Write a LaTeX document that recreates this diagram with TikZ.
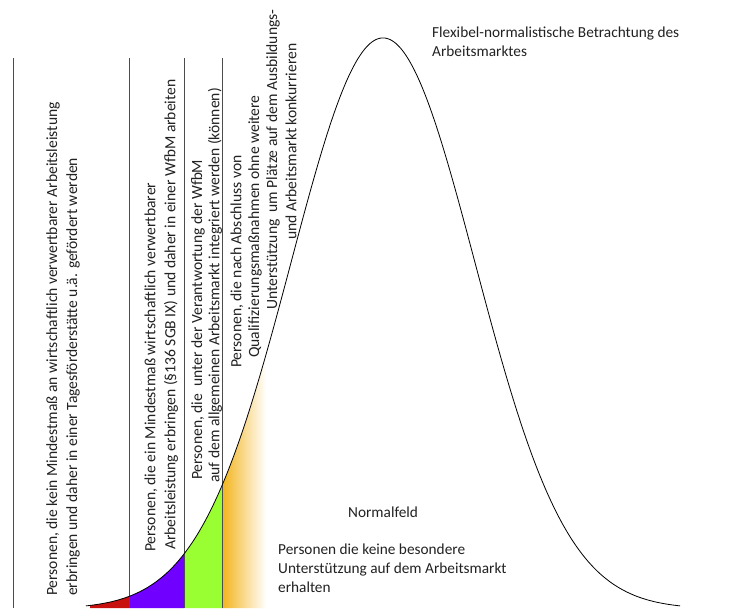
\documentclass[tikz,border=0pt]{standalone}
\usepackage{fontspec}
\setmainfont{Carlito}
\definecolor{cred}{HTML}{C8100E}
\definecolor{cpurple}{HTML}{7000FF}
\definecolor{cgreen}{HTML}{99FF33}
\definecolor{corange}{HTML}{F4B41C}
\definecolor{ctext}{HTML}{222222}
\pgfmathdeclarefunction{bell}{1}{\pgfmathparse{609-571*exp(-0.5*((#1-383)/92)^2)}}
\tikzset{
  vtext/.style={rotate=90, anchor=west, inner sep=0pt, text=ctext, font=\fontsize{15.6}{19.5}\selectfont},
  htext/.style={anchor=west, inner sep=0pt, text=ctext, font=\fontsize{15.3}{19}\selectfont, align=left},
  sep/.style={draw=black!70, line width=0.9pt},
}
\begin{document}
\begin{tikzpicture}[x=1pt,y=-1pt]
\useasboundingbox (0,0) rectangle (744,608);
\fill[white] (0,0) rectangle (744,608);
% fills under the curve
\fill[cred] (90,608) -- plot[domain=90:129,samples=20] (\x,{bell(\x)}) -- (129,608) -- cycle;
\fill[cpurple] (129,608) -- plot[domain=129:184,samples=30] (\x,{bell(\x)}) -- (184,608) -- cycle;
\fill[cgreen] (184,608) -- plot[domain=184:222,samples=30] (\x,{bell(\x)}) -- (222,608) -- cycle;
\shade[left color=corange, right color=white] (222,608) -- plot[domain=222:266,samples=30] (\x,{bell(\x)}) -- (266,608) -- cycle;
% separators
\draw[sep] (13,58) -- (13,608);
\draw[sep] (129,58) -- (129,608);
\draw[sep] (184,58) -- (184,608);
\draw[sep] (222,58) -- (222,608);
% bell curve
\draw[black, line width=0.8pt] plot[domain=86:680,samples=300,smooth] (\x,{bell(\x)});
% column texts
\node[vtext] (c1a) at (53,596) {Personen, die kein Mindestmaß an wirtschaftlich verwertbarer Arbeitsleistung};
\node[vtext] (c1b) at (73,596) {erbringen und daher in einer Tagesförderstätte u.ä. gefördert werden};
\node[vtext] (c2a) at (151,552) {Personen, die ein Mindestmaß wirtschaftlich verwertbarer};
\node[vtext] (c2b) at (171,550) {Arbeitsleistung erbringen (§136 SGB IX) und daher in einer WfbM arbeiten};
\node[vtext] (c3a) at (198,480) {Personen, die\ \ unter der Verantwortung der WfbM};
\node[vtext] (c3b) at (215,483) {auf dem allgemeinen Arbeitsmarkt integriert werden (können)};
\node[vtext] (c4a) at (237,368) {Personen, die nach Abschluss von};
\node[vtext] (c4b) at (255,358) {Qualifizierungsmaßnahmen ohne weitere};
\node[vtext] (c4c) at (273,310) {Unterstützung\ \ um Plätze auf dem Ausbildungs-};
\node[vtext] (c4d) at (291,240) {und Arbeitsmarkt konkurrieren};
% other texts
\node[htext] (title) at (432,42) {Flexibel-normalistische Betrachtung des\\Arbeitsmarktes};
\node[htext] (normal) at (348,512) {Normalfeld};
\node[htext] (pers) at (278,568) {Personen die keine besondere\\Unterstützung auf dem Arbeitsmarkt\\erhalten};
\end{tikzpicture}
\end{document}
